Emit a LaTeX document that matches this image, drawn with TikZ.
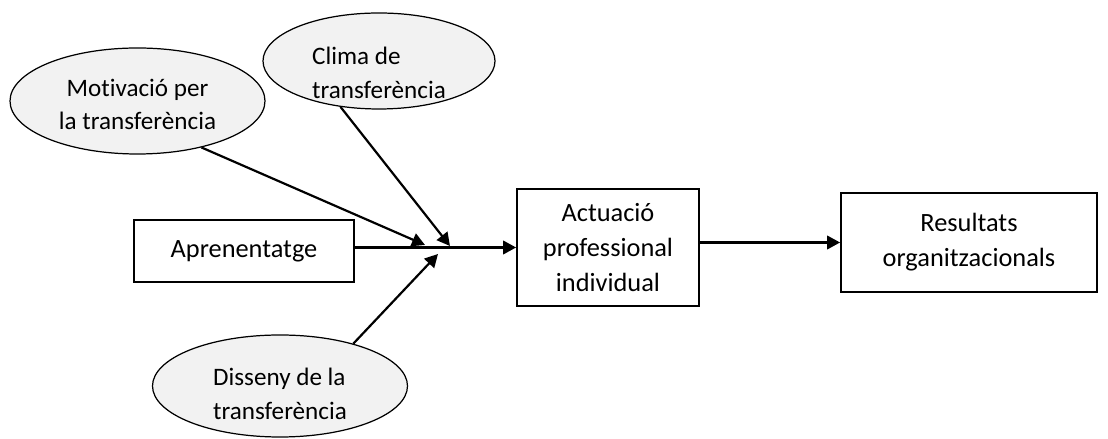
\documentclass[tikz,border=0pt]{standalone}
\usepackage{fontspec}
\setmainfont{Carlito}[Ligatures={NoCommon,NoContextual,NoRare},Contextuals=NoAlternate]
\usetikzlibrary{shapes.geometric,arrows.meta}
\definecolor{grisclar}{RGB}{242,242,242}
\tikzset{
  caixa/.style={draw,line width=1pt,align=center},
  bombolla/.style={ellipse,draw,line width=0.7pt,fill=grisclar},
  textbomb/.style={font=\fontsize{14.3}{19}\selectfont},
  fletxa/.style={->,line width=1.25pt}
}
\begin{document}
\begin{tikzpicture}[>={Triangle[length=2.6mm,width=2.7mm]},every node/.style={font=\fontsize{15}{20}\selectfont}]
\useasboundingbox (0,0) rectangle (22.16,8.78);
% caixes
\node[caixa,minimum width=4.4cm,minimum height=1.24cm] (apren) at (4.88,3.76) {Aprenentatge};
\node[caixa,minimum width=3.64cm,minimum height=2.34cm] (actua) at (12.16,3.83) {Actuació\\professional\\individual};
\node[caixa,minimum width=5.12cm,minimum height=1.98cm] (result) at (19.38,3.93) {Resultats\\organitzacionals};
% el·lipses
\node[bombolla,minimum width=5.1cm,minimum height=2.12cm,
  label={[textbomb,align=center,yshift=-0.07cm]center:Motivació per\\la transferència}] (motiv) at (2.75,6.76) {};
\node[bombolla,minimum width=4.64cm,minimum height=1.92cm,
  label={[textbomb,align=left,yshift=-0.24cm]center:Clima de\\transferència}] (clima) at (7.58,7.56) {};
\node[bombolla,minimum width=5.1cm,minimum height=2.04cm,
  label={[textbomb,align=left,yshift=-0.16cm]center:Disseny de la\\transferència}] (disseny) at (5.6,1.06) {};
% puntes
\coordinate (jm) at (8.5,3.88);
\coordinate (jc) at (9.0,3.86);
\coordinate (jd) at (8.76,3.7);
% fletxes
\draw[fletxa] (apren.east |- actua.west) -- (actua.west);
\draw[fletxa] (actua.east |- result.west) -- (result.west);
\draw[fletxa] (motiv.-36) -- (jm);
\draw[fletxa] (clima.-130) -- (jc);
\draw[fletxa] (disseny.30) -- (jd);
\end{tikzpicture}
\end{document}
